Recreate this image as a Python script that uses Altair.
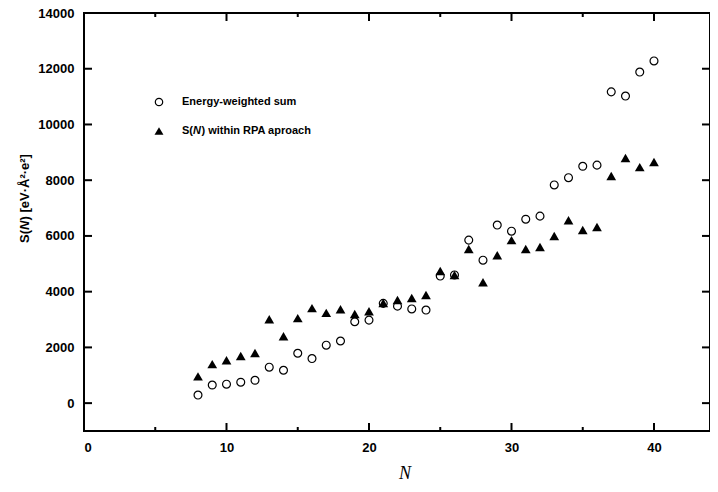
import altair as alt
import pandas as pd

# ---- data ----
N = list(range(8, 41))
EWS = [290, 650, 680, 750, 820, 1290, 1180, 1790, 1600, 2080, 2230, 2920, 2980,
       3580, 3480, 3380, 3340, 4560, 4600, 5850, 5130, 6390, 6170, 6600, 6710,
       7830, 8090, 8500, 8540, 11170, 11020, 11880, 12280]
RPA = [960, 1400, 1540, 1690, 1800, 3010, 2400, 3050, 3410, 3240, 3370, 3200, 3300,
       3590, 3700, 3770, 3880, 4740, 4600, 5530, 4340, 5310, 5850, 5530, 5600,
       6000, 6560, 6210, 6320, 8150, 8800, 8470, 8650]

X_LABELS = [0, 10, 20, 30, 40]
X_MAJOR = [10, 20, 30, 40]
X_MINOR = [5, 15, 25, 35]
Y_LABELS = [0, 2000, 4000, 6000, 8000, 10000, 12000, 14000]
Y_MAJOR = [0, 2000, 4000, 6000, 8000, 10000, 12000]

LEGEND_1 = "Energy-weighted sum"
LEGEND_2 = ["S(", "N", ") within RPA aproach"]
Y_TITLE = ["S(", "N", ") [eV·Å²·e²]"]
X_TITLE = "N"

W, H = 626, 418
FONT = "Liberation Sans"

df = pd.DataFrame({"N": N, "ews": EWS, "rpa": RPA})
xs = alt.Scale(domain=[0, 43.93], nice=False, zero=False)
ys = alt.Scale(domain=[-1000, 14000], nice=False, zero=False)

xax = alt.Axis(values=X_LABELS, ticks=False, domain=False, grid=False,
               labelPadding=10, title=None, format="d")
yax = alt.Axis(values=Y_LABELS, ticks=False, domain=False, grid=False,
               labelPadding=10, title=None, format="d")

base = alt.Chart(df)

circles = base.mark_point(shape="circle", filled=False, color="black",
                          size=62, strokeWidth=1.2, opacity=1).encode(
    x=alt.X("N:Q", scale=xs, axis=xax),
    y=alt.Y("ews:Q", scale=ys, axis=yax),
)
triangles = base.mark_point(shape="triangle-up", filled=True, color="black",
                            size=95, opacity=1).encode(
    x=alt.X("N:Q", scale=xs, axis=xax),
    y=alt.Y("rpa:Q", scale=ys, axis=yax),
)

# inward tick marks (axis decorations) at the tick-array positions
def xt(vals, yc, length):
    return alt.Chart(pd.DataFrame({"N": vals})).mark_tick(
        color="black", thickness=2, size=length, orient="vertical", opacity=1).encode(
        x=alt.X("N:Q", scale=xs, axis=xax), y=alt.value(yc))

def yt(vals, xc, length):
    return alt.Chart(pd.DataFrame({"ews": vals})).mark_tick(
        color="black", thickness=2, size=length, orient="horizontal", opacity=1).encode(
        y=alt.Y("ews:Q", scale=ys, axis=yax), x=alt.value(xc))

ticks = [
    xt(X_MAJOR, H - 4, 8), xt(X_MINOR, H - 2, 4),
    xt(X_MAJOR, 4, 8), xt(X_MINOR, 2, 4),
    yt(Y_MAJOR, 4, 8), yt(Y_MAJOR, W - 4, 8),
]

one = pd.DataFrame({"k": [0]})

frame = alt.Chart(one).mark_rect(filled=False, stroke="black", strokeWidth=2).encode(
    x=alt.value(0), x2=alt.value(W), y=alt.value(0), y2=alt.value(H))

def txt(text, x, y, size=11, style="normal", weight="bold", angle=0, align="left", font=FONT):
    kw = dict(text=text, fontSize=size, fontStyle=style, fontWeight=weight,
              align=align, baseline="middle", font=font, color="black")
    if angle:
        kw["angle"] = angle
    return alt.Chart(one).mark_text(**kw).encode(x=alt.value(x), y=alt.value(y))

leg_c = alt.Chart(one).mark_point(shape="circle", filled=False, color="black", size=55,
                                  strokeWidth=1.2, opacity=1).encode(x=alt.value(75), y=alt.value(89))
leg_t = alt.Chart(one).mark_point(shape="triangle-up", filled=True, color="black", size=80,
                                  opacity=1).encode(x=alt.value(75), y=alt.value(118))
legend = [
    leg_c, leg_t,
    txt(LEGEND_1, 98, 89),
    txt(LEGEND_2[0], 98, 118),
    txt(LEGEND_2[1], 109, 118, style="italic"),
    txt(LEGEND_2[2], 117.5, 118),
]

titles = [
    txt(X_TITLE, 321, 461, size=18, style="italic", weight="normal", align="center", font="Liberation Serif"),
    txt(Y_TITLE[0], -59, 230, size=13, angle=270),
    txt(Y_TITLE[1], -59, 217, size=13, angle=270, style="italic"),
    txt(Y_TITLE[2], -59, 207.5, size=13, angle=270),
]

chart = alt.layer(circles, triangles, frame, *ticks, *legend, *titles).properties(
    width=W, height=H,
    autosize=alt.AutoSizeParams(type="none"),
    padding={"left": 76, "top": 5, "right": 0, "bottom": 60},
).configure(
    background="white",
).configure_view(
    strokeWidth=0,
).configure_axis(
    labelFont=FONT, labelFontSize=13, labelFontWeight="bold", labelColor="black",
)

chart.save("out.html", embed_options={"renderer": "svg", "actions": False})
